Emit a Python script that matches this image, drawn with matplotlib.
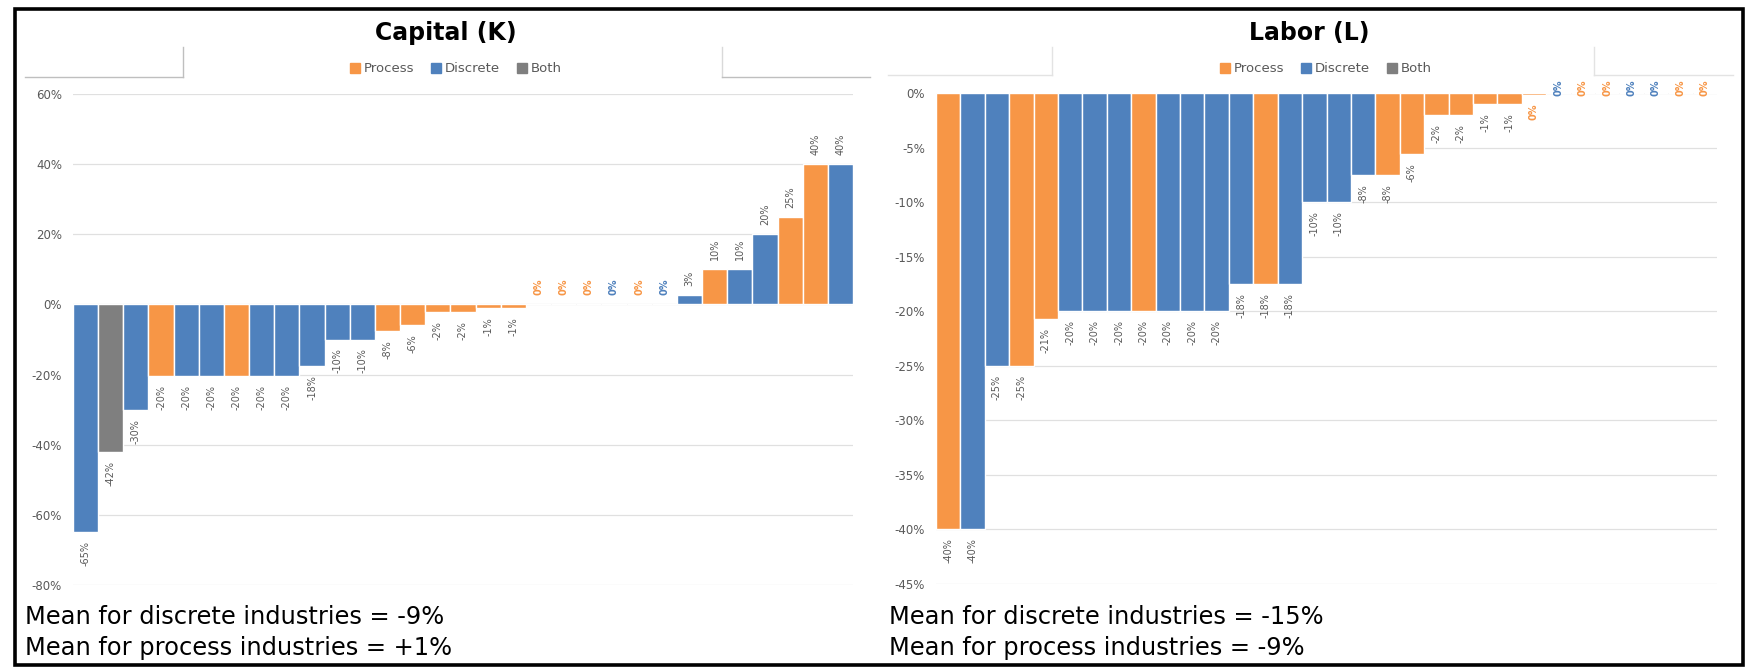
# Bar charts of capital and labor changes by industry, coloured by industry type

import numpy as np
import matplotlib.pyplot as plt
from matplotlib.patches import Patch, Rectangle
from matplotlib.lines import Line2D

# Data (percent change), P = process, D = discrete, B = both
capital_values = [-65, -42, -30, -20.3, -20.3, -20.3, -20.3, -20.3, -20.3, -17.6, -10, -10,
                  -7.6, -6, -2.2, -2.2, -1.1, -1.1, 0, 0, 0, 0, 0, 0, 2.6, 10, 10, 20, 25, 40, 40]
capital_types = ['D', 'B', 'D', 'P', 'D', 'D', 'P', 'D', 'D', 'D', 'D', 'D', 'P', 'P', 'P', 'P',
                 'P', 'P', 'P', 'P', 'P', 'D', 'P', 'D', 'D', 'P', 'D', 'D', 'P', 'P', 'D']
labor_values = [-40, -40, -25, -25, -20.7, -20, -20, -20, -20, -20, -20, -20, -17.5, -17.5, -17.5,
                -10, -10, -7.5, -7.5, -5.6, -2, -2, -1, -1, -0.15, 0, 0, 0, 0, 0, 0, 0]
labor_types = ['P', 'D', 'D', 'P', 'P', 'D', 'D', 'D', 'P', 'D', 'D', 'D', 'D', 'P', 'D', 'D',
               'D', 'D', 'P', 'P', 'P', 'P', 'P', 'P', 'P', 'D', 'P', 'P', 'D', 'D', 'P', 'P']
capital_ticks = [60, 40, 20, 0, -20, -40, -60, -80]
labor_ticks = [0, -5, -10, -15, -20, -25, -30, -35, -40, -45]
legend_names = ['Process', 'Discrete', 'Both']
capital_notes = ['Mean for discrete industries = -9%', 'Mean for process industries = +1%']
labor_notes = ['Mean for discrete industries = -15%', 'Mean for process industries = -9%']

colors = {'P': '#F79646', 'D': '#4F81BD', 'B': '#7F7F7F'}
text_gray = '#595959'

W, H = 1753, 670
fig = plt.figure(figsize=(W / 100, H / 100), dpi=100)
fig.patch.set_facecolor('white')


def px(x, y):
    # pixel position (from top left) to figure fraction
    return x / W, 1 - y / H


def fig_line(x0, y0, x1, y1, color):
    a = px(x0, y0)
    b = px(x1, y1)
    fig.add_artist(Line2D([a[0], b[0]], [a[1], b[1]], color=color, lw=1.0,
                          transform=fig.transFigure))


def draw_panel(rect, values, types, ticks, zero_va, zero_off):
    ax = fig.add_axes(rect)
    x = np.arange(len(values))
    ax.bar(x, values, width=1.0, color=[colors[t] for t in types],
           edgecolor='white', linewidth=1.0, zorder=2)
    for i, v in enumerate(values):
        r = int(np.sign(v) * np.floor(abs(v) + 0.5))
        c = colors[types[i]] if r == 0 else text_gray
        w = 'semibold' if r == 0 else 'normal'
        if v < 0:
            off, va = -6.5, 'top'
        elif r == 0:
            off, va = zero_off, zero_va
        else:
            off, va = 6.5, 'bottom'
        ax.annotate(f'{r}%', (x[i], v), xytext=(0, off), textcoords='offset points',
                    ha='center', va=va, rotation=90, fontsize=7, color=c, weight=w,
                    annotation_clip=False)
    ax.set_xlim(-0.5, len(values) - 0.5)
    ax.set_ylim(min(ticks), max(ticks))
    ax.set_yticks(ticks)
    ax.set_yticklabels([f'{t}%' for t in ticks], color=text_gray, fontsize=8.5)
    ax.tick_params(axis='y', length=0, pad=8)
    ax.set_xticks([])
    ax.yaxis.grid(True, color='#E0E0E0', lw=0.9)
    ax.set_axisbelow(True)
    for s in ax.spines.values():
        s.set_visible(False)
    return ax


# Capital panel
l, b = px(73, 585)
r, t = px(853, 94)
ax1 = draw_panel([l, b, r - l, t - b], capital_values, capital_types, capital_ticks, 'bottom', 6.5)

# Labor panel
l, b = px(936, 584)
r, t = px(1717, 93)
ax2 = draw_panel([l, b, r - l, t - b], labor_values, labor_types, labor_ticks, 'center', 4)

# Titles
fig.text(*px(446, 33), 'Capital (K)', ha='center', va='center', fontsize=17, weight='bold')
fig.text(*px(1309, 33), 'Labor (L)', ha='center', va='center', fontsize=17, weight='bold')

# Legends
handles = [Patch(color=colors[k]) for k in ['P', 'D', 'B']]
for cx in [456, 1326]:
    leg = fig.legend(handles, legend_names, loc='center', bbox_to_anchor=px(cx, 69), ncol=3,
                     frameon=False, fontsize=9.5, handlelength=0.75, handleheight=0.75,
                     handletextpad=0.3, columnspacing=1.3, borderaxespad=0)
    for txt in leg.get_texts():
        txt.set_color(text_gray)

# Notes with the means
fig.text(*px(25, 617), capital_notes[0], va='center', fontsize=17.4)
fig.text(*px(25, 648), capital_notes[1], va='center', fontsize=17.4)
fig.text(*px(889, 617), labor_notes[0], va='center', fontsize=17.4)
fig.text(*px(889, 648), labor_notes[1], va='center', fontsize=17.4)

# Leftover box lines from the pasted chart images
fig_line(25, 77, 183, 77, '#BFBFBF')
fig_line(183, 47, 183, 77, '#BFBFBF')
fig_line(722, 47, 722, 77, '#D9D9D9')
fig_line(722, 77, 870, 77, '#BFBFBF')
fig_line(888, 75, 1052, 75, '#E3E3E3')
fig_line(1052, 47, 1052, 75, '#E3E3E3')
fig_line(1594, 47, 1594, 75, '#E3E3E3')
fig_line(1594, 75, 1733, 75, '#E3E3E3')

# Black frame around the whole picture
x0, y0 = px(14.5, 664.5)
x1, y1 = px(1742.5, 8.5)
fig.add_artist(Rectangle((x0, y0), x1 - x0, y1 - y0, transform=fig.transFigure,
                         fill=False, edgecolor='black', lw=2.6))

fig.savefig('out.png', dpi=100)
